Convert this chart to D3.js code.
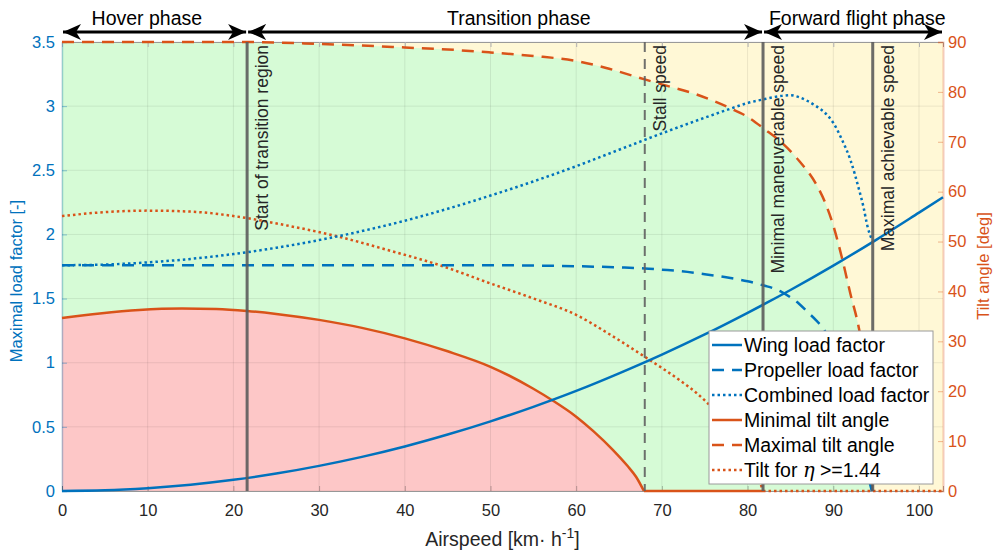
<!DOCTYPE html>
<html>
<head>
<meta charset="utf-8">
<script src="https://cdn.jsdelivr.net/npm/d3@7"></script>
<style>
  body { margin: 0; background: #fff; }
  svg { font-family: "Liberation Sans", Arial, Helvetica, sans-serif; }
</style>
</head>
<body>
<div class="chart"></div>
<script>
// ---- data ----
// [airspeed km/h, load factor]
var wingLoad = [[0,0],[5,0.005],[10,0.022],[15,0.049],[20,0.087],[25,0.136],[30,0.196],[35,0.266],[40,0.347],[45,0.44],[50,0.543],[55,0.656],[60,0.78],[65,0.917],[70,1.063],[75,1.22],[80,1.389],[85,1.567],[90,1.757],[95,1.958],[100,2.17],[102.8,2.29]];
var propLoad = [[0,1.76],[50,1.76],[55,1.757],[60,1.752],[65,1.743],[68,1.735],[70,1.725],[72,1.715],[75,1.69],[78,1.66],[80,1.635],[82,1.6],[83,1.58],[84,1.55],[85,1.51],[86,1.46],[87,1.395],[88,1.33],[89,1.25],[90,1.11],[91,0.95],[92,0.75],[93,0.47],[93.5,0.33],[94,0.14],[94.5,0]];
var combinedLoad = [[0,1.76],[5,1.765],[10,1.782],[15,1.809],[20,1.847],[25,1.896],[30,1.956],[35,2.026],[40,2.107],[45,2.2],[50,2.303],[55,2.413],[60,2.532],[65,2.66],[70,2.788],[75,2.91],[78,2.98],[80,3.024],[82,3.055],[84,3.08],[85,3.085],[86,3.07],[87,3.04],[88,3.0],[89,2.95],[90,2.87],[91,2.74],[92,2.58],[93,2.35],[93.5,2.22],[94,2.06],[94.5,1.96]];
// [airspeed km/h, tilt deg]
var minTilt = [[0,34.7],[4.4,35.6],[9,36.3],[14,36.6],[18,36.5],[21.6,36.1],[25,35.5],[30,34.3],[35,32.7],[40,30.6],[45,28.0],[50,24.9],[55,20.5],[57.2,18.2],[60,14.9],[62,12.0],[64.3,8.2],[66,5.0],[67,2.8],[67.9,0],[81.8,0]];
var maxTilt = [[0,90],[21.6,90],[25,89.9],[30,89.6],[35,89.3],[40,88.9],[45,88.5],[50,87.9],[55,87.2],[60,86.2],[63.5,84.8],[68,82.5],[70,81.5],[74,79.5],[78,76.7],[80,75.0],[82,72.5],[84,69.8],[86,66.2],[88,61.5],[89,58],[90,53.2],[91,46.8],[92,39.5],[93,32.5],[93.5,27.5],[94,20],[94.3,13],[94.5,0]];
var etaTilt = [[0,55.1],[5,55.9],[10,56.2],[15,56.0],[21.6,54.7],[26,53.3],[32,51.1],[38,48.3],[44,45.3],[50,41.6],[55,38.6],[60,35.3],[64,31.3],[68,26.9],[72,22.3],[74,19.7],[76,16.4],[78,12.2],[80,7.0],[81,3.8],[81.8,0],[102.8,0]];

// marker speeds and phases
var markers = [
  {v: 21.6, label: "Start of transition region", dashed: false},
  {v: 68.0, label: "Stall speed", dashed: true},
  {v: 81.8, label: "Minimal maneuverable speed", dashed: false},
  {v: 94.6, label: "Maximal achievable speed", dashed: false}
];
var phases = [
  {from: 0, to: 21.6, labelAt: 9.9, label: "Hover phase"},
  {from: 21.6, to: 81.8, labelAt: 53.3, label: "Transition phase"},
  {from: 81.8, to: 102.8, labelAt: 92.8, label: "Forward flight phase"}
];

var xTicks = d3.range(0, 101, 10);
var yLeftTicks = d3.range(0, 3.51, 0.5);
var yRightTicks = d3.range(0, 91, 10);

var blue = "#0072BD";
var orange = "#D95319";

var svgWidth = 995;
var svgHeight = 556;
var plot = {left: 62, right: 943, top: 42, bottom: 491};

var svg = d3.select(".chart")
  .append("svg")
  .attr("width", svgWidth)
  .attr("height", svgHeight);

var x = d3.scaleLinear().domain([0, 102.8]).range([plot.left, plot.right]);
var yL = d3.scaleLinear().domain([0, 3.5]).range([plot.bottom, plot.top]);
var yR = d3.scaleLinear().domain([0, 90]).range([plot.bottom, plot.top]);

// split a series where it first touches zero, so the flat tail stays straight
function splitAtZero(data) {
  var i = data.findIndex(d => d[1] === 0);
  if (i < 0 || i === data.length - 1) return [data];
  return [data.slice(0, i + 1), data.slice(i)];
}

function lineL(data) {
  return d3.line().x(d => x(d[0])).y(d => yL(d[1])).curve(d3.curveMonotoneX)(data);
}
function lineR(data) {
  return splitAtZero(data)
    .map(part => d3.line().x(d => x(d[0])).y(d => yR(d[1])).curve(d3.curveMonotoneX)(part))
    .join("");
}
function areaR(data) {
  return d3.area().x(d => x(d[0])).y0(yR(0)).y1(d => yR(d[1])).curve(d3.curveMonotoneX)(data);
}

// background regions
svg.append("rect")
  .attr("x", plot.left).attr("y", plot.top)
  .attr("width", plot.right - plot.left).attr("height", plot.bottom - plot.top)
  .attr("fill", "#fff8d6");
svg.append("path").attr("d", areaR(maxTilt)).attr("fill", "#d6fbd6");
svg.append("path").attr("d", areaR(splitAtZero(minTilt)[0])).attr("fill", "#fdc7c7");

// grid
var grid = svg.append("g").attr("stroke", "rgba(0,0,0,0.08)").attr("stroke-width", 1);
xTicks.forEach(function(t) {
  grid.append("line").attr("x1", x(t)).attr("x2", x(t)).attr("y1", plot.top).attr("y2", plot.bottom);
});
yLeftTicks.forEach(function(t) {
  grid.append("line").attr("x1", plot.left).attr("x2", plot.right).attr("y1", yL(t)).attr("y2", yL(t));
});

// axes
var xAxis = svg.append("g")
  .attr("transform", `translate(0, ${plot.bottom})`)
  .call(d3.axisBottom(x).tickValues(xTicks).tickSize(-5).tickPadding(13).tickFormat(d3.format("d")));
xAxis.select(".domain").attr("stroke", "rgba(38,38,38,0.45)");
xAxis.selectAll(".tick line").attr("stroke", "rgba(38,38,38,0.3)");
xAxis.selectAll("text").attr("fill", "#262626").style("font-size", "16.5px");

var xTop = svg.append("g")
  .attr("transform", `translate(0, ${plot.top})`)
  .call(d3.axisTop(x).tickValues(xTicks).tickSize(-5).tickFormat(""));
xTop.select(".domain").attr("stroke", "#9a9a9a");
xTop.selectAll(".tick line").attr("stroke", "#b0b0b0");

var yAxisL = svg.append("g")
  .attr("transform", `translate(${plot.left}, 0)`)
  .call(d3.axisLeft(yL).tickValues(yLeftTicks).tickSize(-5).tickPadding(7).tickFormat(d3.format("")));
yAxisL.select(".domain").attr("stroke", "rgba(0,114,189,0.28)").attr("stroke-width", 1.5);
yAxisL.selectAll(".tick line").attr("stroke", "rgba(0,114,189,0.4)");
yAxisL.selectAll("text").attr("fill", blue).style("font-size", "16.5px");

var yAxisR = svg.append("g")
  .attr("transform", `translate(${plot.right}, 0)`)
  .call(d3.axisRight(yR).tickValues(yRightTicks).tickSize(-5).tickPadding(5));
yAxisR.select(".domain").attr("stroke", "rgba(217,83,25,0.3)").attr("stroke-width", 2);
yAxisR.selectAll(".tick line").attr("stroke", "rgba(217,83,25,0.4)");
yAxisR.selectAll("text").attr("fill", orange).style("font-size", "16.5px");
svg.selectAll(".domain").attr("fill", "none");

// curves
function drawLine(d, color, dash) {
  svg.append("path")
    .attr("d", d)
    .attr("fill", "none")
    .attr("stroke", color)
    .attr("stroke-width", 2.5)
    .attr("stroke-dasharray", dash);
}
drawLine(lineR(minTilt), orange, null);
drawLine(lineR(maxTilt), orange, "12,8");
drawLine(lineR(etaTilt), orange, "2.5,3");
drawLine(lineL(wingLoad), blue, null);
drawLine(lineL(propLoad), blue, "12,8");
drawLine(lineL(combinedLoad), blue, "2.5,3");

// speed markers
markers.forEach(function(m) {
  svg.append("line")
    .attr("x1", x(m.v)).attr("x2", x(m.v))
    .attr("y1", plot.top).attr("y2", plot.bottom)
    .attr("stroke", m.dashed ? "#606060" : "#5c5c5c")
    .attr("stroke-opacity", 0.9)
    .attr("stroke-width", m.dashed ? 2 : 3)
    .attr("stroke-dasharray", m.dashed ? "10,7" : null);
  svg.append("text")
    .attr("transform", `translate(${x(m.v) + 21}, ${plot.top + 3}) rotate(-90)`)
    .attr("text-anchor", "end")
    .attr("fill", "#262626")
    .style("font-size", "17.5px")
    .text(m.label);
});

// phase arrows
var defs = svg.append("defs");
defs.append("marker")
  .attr("id", "head")
  .attr("viewBox", "0 0 18 16")
  .attr("refX", 18).attr("refY", 8)
  .attr("markerWidth", 18).attr("markerHeight", 16)
  .attr("markerUnits", "userSpaceOnUse")
  .attr("orient", "auto-start-reverse")
  .append("path")
  .attr("d", "M0,0 L18,8 L0,16 L5,8 Z")
  .attr("fill", "#000");

phases.forEach(function(p) {
  svg.append("line")
    .attr("x1", x(p.from) + 1).attr("x2", x(p.to) - 1)
    .attr("y1", 32).attr("y2", 32)
    .attr("stroke", "#000")
    .attr("stroke-width", 3)
    .attr("marker-start", "url(#head)")
    .attr("marker-end", "url(#head)");
  svg.append("text")
    .attr("x", x(p.labelAt))
    .attr("y", 25)
    .attr("text-anchor", "middle")
    .attr("fill", "#000")
    .style("font-size", "19.5px")
    .text(p.label);
});

// axis labels
svg.append("text")
  .attr("transform", "translate(22, 281) rotate(-90)")
  .attr("text-anchor", "middle")
  .attr("fill", blue)
  .style("font-size", "16.5px")
  .text("Maximal load factor [-]");

svg.append("text")
  .attr("transform", "translate(989, 266) rotate(-90)")
  .attr("text-anchor", "middle")
  .attr("fill", orange)
  .style("font-size", "16.5px")
  .text("Tilt angle [deg]");

var xLabel = svg.append("text")
  .attr("x", (plot.left + plot.right) / 2)
  .attr("y", 546)
  .attr("text-anchor", "middle")
  .attr("fill", "#262626")
  .style("font-size", "19.5px");
xLabel.append("tspan").text("Airspeed [km\u00b7 h");
xLabel.append("tspan").attr("dy", -8).style("font-size", "14px").text("-1");
xLabel.append("tspan").attr("dy", 8).text("]");

// legend
var legendItems = [
  {label: "Wing load factor", color: blue, dash: null},
  {label: "Propeller load factor", color: blue, dash: "12,8"},
  {label: "Combined load factor", color: blue, dash: "2.5,3"},
  {label: "Minimal tilt angle", color: orange, dash: null},
  {label: "Maximal tilt angle", color: orange, dash: "12,8"},
  {label: "Tilt for ", color: orange, dash: "2.5,3", eta: true}
];
var legend = svg.append("g").attr("transform", "translate(709, 331)");
legend.append("rect")
  .attr("width", 224).attr("height", 153)
  .attr("fill", "#fff")
  .attr("stroke", "#9a9a9a");
legendItems.forEach(function(item, i) {
  var cy = 14 + i * 25;
  legend.append("line")
    .attr("x1", 3).attr("x2", 33)
    .attr("y1", cy).attr("y2", cy)
    .attr("stroke", item.color)
    .attr("stroke-width", 2.5)
    .attr("stroke-dasharray", item.dash);
  var t = legend.append("text")
    .attr("x", 35).attr("y", cy + 7)
    .attr("fill", "#000")
    .style("font-size", "19.5px");
  t.append("tspan").text(item.label);
  if (item.eta) {
    t.append("tspan")
      .style("font-family", "'DejaVu Serif', 'Liberation Serif', serif")
      .style("font-style", "italic")
      .text("\u03b7");
    t.append("tspan").text(" >=1.44");
  }
});
</script>
</body>
</html>
